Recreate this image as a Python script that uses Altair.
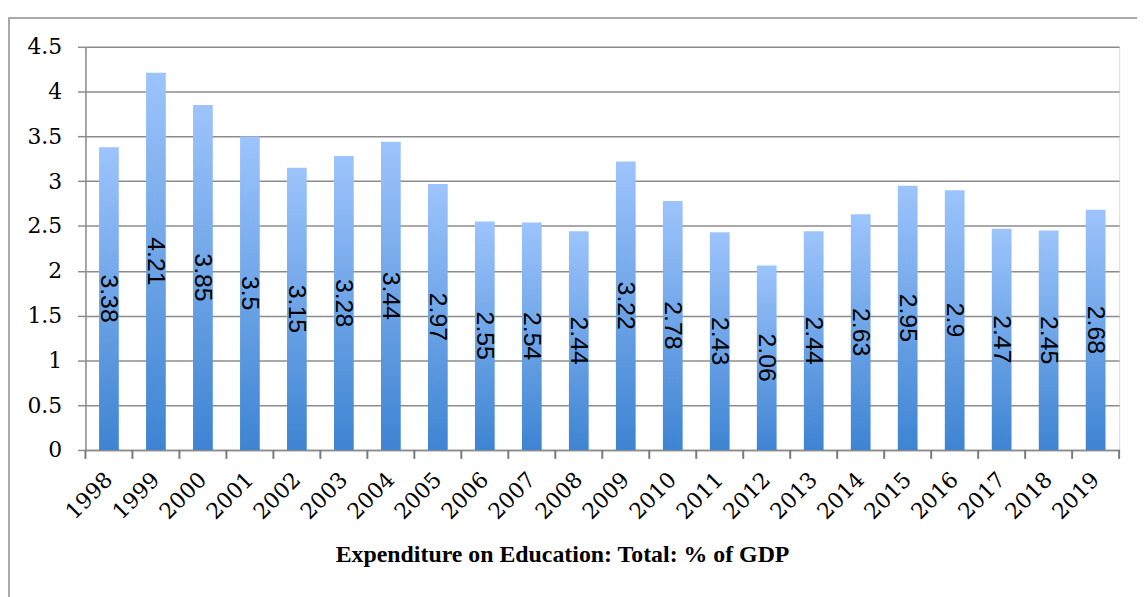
import altair as alt
import pandas as pd

years = [str(y) for y in range(1998, 2020)]
values = [3.38, 4.21, 3.85, 3.5, 3.15, 3.28, 3.44, 2.97, 2.55, 2.54, 2.44,
          3.22, 2.78, 2.43, 2.06, 2.44, 2.63, 2.95, 2.9, 2.47, 2.45, 2.68]
y_ticks = [0, 0.5, 1, 1.5, 2, 2.5, 3, 3.5, 4, 4.5]
title_text = "Expenditure on Education: Total: % of GDP"

df = pd.DataFrame({"year": years, "value": values})
last_df = pd.DataFrame({"year": [years[-1]]})

grad = alt.Gradient(
    gradient="linear",
    stops=[alt.GradientStop(color="#9dc4fc", offset=0),
           alt.GradientStop(color="#3e84d2", offset=1)],
    x1=0, x2=0, y1=0, y2=1,
)

GRAY = "#8c8c8c"

x_enc = alt.X(
    "year:N",
    sort=None,
    scale=alt.Scale(paddingInner=0, paddingOuter=0),
    axis=alt.Axis(
        title=title_text,
        titleFont="Liberation Serif",
        titleFontWeight="bold",
        titleFontSize=24,
        titleColor="black",
        titleX=480,
        titleY=112,
        titleBaseline="alphabetic",
        titleAnchor="start",
        titleAlign="center",
        labelAngle=-45,
        labelAlign="right",
        labelBaseline="middle",
        labelFont="DejaVu Serif",
        labelFontSize=22,
        labelColor="black",
        labelPadding=26,
        ticks=False,
        domainColor=GRAY,
        domainWidth=1.5,
        grid=False,
    ),
)

bars = alt.Chart(df).mark_bar(
    color=grad, width=alt.RelativeBandSize(0.42)
).encode(
    x=x_enc,
    y=alt.Y(
        "value:Q",
        scale=alt.Scale(domain=[0, 4.5], nice=False),
        axis=alt.Axis(
            title=None,
            values=y_ticks,
            format="~g",
            labelFont="DejaVu Serif",
            labelFontSize=22,
            labelColor="black",
            labelPadding=16,
            ticks=True,
            tickSize=8,
            tickColor=GRAY,
            tickWidth=1.5,
            domainColor=GRAY,
            domainWidth=1.5,
            gridColor=GRAY,
            gridWidth=1.5,
        ),
    ),
)

xticks = alt.Chart(df).mark_rule(color="#7a7a7a", strokeWidth=2).encode(
    x=alt.X("year:N", sort=None, bandPosition=0),
    y=alt.value(406), y2=alt.value(415),
)
xtick_end = alt.Chart(last_df).mark_rule(color="#7a7a7a", strokeWidth=2).encode(
    x=alt.X("year:N", sort=None, bandPosition=1),
    y=alt.value(406), y2=alt.value(415),
)

labels = alt.Chart(df).transform_calculate(
    mid="datum.value / 2"
).mark_text(
    angle=90, align="center", baseline="middle",
    font="Liberation Sans", fontSize=25, color="black",
).encode(
    x=alt.X("year:N", sort=None),
    y=alt.Y("mid:Q"),
    text=alt.Text("value:Q", format="~g"),
)

frame = alt.Chart(alt.Data(values=[{"a": 1}])).mark_rect(
    filled=False, stroke=GRAY, strokeWidth=1.5
).encode(
    x=alt.value(-77), x2=alt.value(1080),
    y=alt.value(-29), y2=alt.value(620),
)

chart = alt.layer(frame, bars, xticks, xtick_end, labels).properties(
    width=1041,
    height=406,
    autosize=alt.AutoSizeParams(type="none"),
    padding={"left": 78, "top": 37, "right": 18, "bottom": 146},
).configure_view(stroke=None).configure(background="white")

chart.save("out.html", embed_options={"renderer": "svg", "actions": False})
